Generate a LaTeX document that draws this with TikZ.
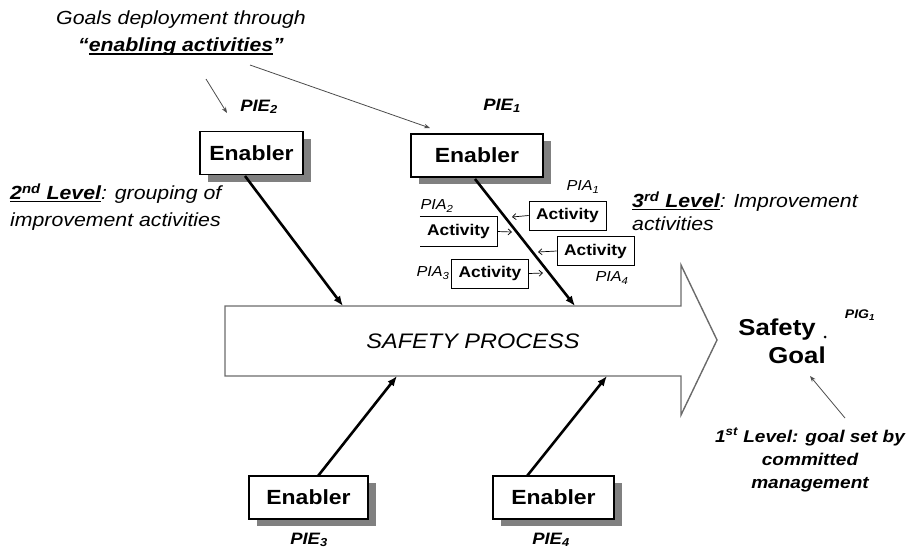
\documentclass[tikz,border=0pt]{standalone}
\usepackage{fontspec}
\setmainfont[FakeStretch=1.12]{Liberation Sans}
\usetikzlibrary{arrows.meta,shadows,calc}

% thick underline for the level headings
\newcommand{\thickul}[1]{\setbox0\hbox{#1}\rlap{\rule[-2.6pt]{\wd0}{1.3pt}}\box0}
\newcommand{\fsz}[2]{\fontsize{#1}{#2}\selectfont}

\definecolor{shadowgray}{gray}{0.5}
\definecolor{outlinegray}{gray}{0.42}
\definecolor{thingray}{gray}{0.3}

\begin{document}
\begin{tikzpicture}[x=1pt,y=-1pt,
  enabler/.style={draw, line width=1.5pt, fill=white, font=\bfseries\fsz{20.5}{22},
    inner sep=0pt, minimum height=43pt,
    general shadow={fill=shadowgray, shadow xshift=8pt, shadow yshift=-7pt}},
  activity/.style={font=\bfseries\fsz{15.5}{17}, inner sep=0pt,
    minimum width=77pt, minimum height=29pt},
  actbox/.style={activity, draw, line width=0.8pt, fill=white},
  pie/.style={font=\bfseries\itshape\fsz{16.5}{18}, inner sep=0pt},
  pia/.style={font=\itshape\fsz{14.5}{16}, inner sep=0pt},
  bone/.style={line width=2.6pt, -{Latex[length=10pt,width=8pt]}},
  feed/.style={line width=0.7pt, -{Straight Barb[length=3.5pt,width=6pt]}},
  pointer/.style={draw=thingray, line width=0.8pt, -{Stealth[length=6pt,width=4.5pt]}},
  outline/.style={draw=outlinegray, line width=1.4pt, fill=white, line join=miter},
]
\useasboundingbox (0,0) rectangle (909,550);

% main process arrow
\draw[outline] (225,306) -- (681,306) -- (681,265) -- (717,340) -- (681,415)
  -- (681,376) -- (225,376) -- cycle;
\node[font=\itshape\fsz{21}{24}] (proc) at (473,341) {SAFETY PROCESS};

% enablers
\node[enabler, minimum width=103pt] (e2) at (251.5,153) {Enabler};
\node[enabler, minimum width=132pt] (e1) at (477,155.5) {Enabler};
\node[enabler, minimum width=119pt] (e3) at (308.5,497.5) {Enabler};
\node[enabler, minimum width=121pt] (e4) at (553.5,497.5) {Enabler};

\node[pie] (pie2) at (259,107) {PIE\textsubscript{2}};
\node[pie] (pie1) at (502,106) {PIE\textsubscript{1}};
\node[pie] (pie3) at (309,540) {PIE\textsubscript{3}};
\node[pie] (pie4) at (551,540) {PIE\textsubscript{4}};

% bones into the process
\coordinate (s2) at (245,176);
\coordinate (t2) at (343,306);
\coordinate (s1) at (475,179);
\coordinate (t1) at (575,306);
\coordinate (s3) at (318,476);
\coordinate (t3) at (397,376);
\coordinate (s4) at (527,476);
\coordinate (t4) at (607,376);
\draw[bone] (s2) -- (t2);
\draw[bone] (s1) -- (t1);
\draw[bone] (s3) -- (t3);
\draw[bone] (s4) -- (t4);

% improvement activities
\node[actbox] (a1) at (567.5,215.5) {Activity};
\node[activity] (a2) at (458.5,231.5) {Activity};
\draw[line width=0.8pt] (a2.north west) -- (a2.north east) -- (a2.south east) -- (a2.south west);
\node[actbox] (a4) at (595.5,251) {Activity};
\node[actbox] (a3) at (490,273.5) {Activity};

\node[pia] (pia1) at (583,187) {PIA\textsubscript{1}};
\node[pia] (pia2) at (437,206) {PIA\textsubscript{2}};
\node[pia] (pia3) at (433,273) {PIA\textsubscript{3}};
\node[pia] (pia4) at (612,278) {PIA\textsubscript{4}};

\coordinate (h1) at (512,217);
\coordinate (h2) at (512,232);
\coordinate (h4) at (538,252);
\coordinate (h3) at (543,273);
\draw[feed] (a1.west) -- (h1);
\draw[feed] (a2.east) -- (h2);
\draw[feed] (a4.west) -- (h4);
\draw[feed] (a3.east) -- (h3);

% goal
\node[font=\bfseries\fsz{23}{28}, align=right, inner sep=0pt] (goal) at (782,341)
  {Safety\hspace*{10pt}\\Goal};
\node[circle, fill, inner sep=0pt, minimum size=3pt] (dot) at (825,337) {};
\node[font=\bfseries\itshape\fsz{12.5}{14}, inner sep=0pt] (pig) at (860,315) {PIG\textsubscript{1}};

% headings
\node[font=\itshape\fsz{19}{27}, align=center] (title) at (181,33.5)
  {Goals deployment through\\{\bfseries “\thickul{enabling activities}”}};
\node[font=\itshape\fsz{19}{27}, align=left, anchor=west, inner sep=0pt] (lvl2) at (10,207)
  {\thickul{\bfseries 2\textsuperscript{nd} Level}: grouping of\\improvement activities};
\node[font=\itshape\fsz{19}{23}, align=left, anchor=west, inner sep=0pt] (lvl3) at (632,211)
  {\thickul{\bfseries 3\textsuperscript{rd} Level}: Improvement\\activities};
\node[font=\bfseries\itshape\fsz{17}{23}, align=center, inner sep=0pt] (lvl1) at (810,460)
  {1\textsuperscript{st} Level: goal set by\\committed\\management};

% pointers
\coordinate (p2a) at (206,79);
\coordinate (p2b) at (227,113);
\coordinate (p1a) at (250,65);
\coordinate (p1b) at (430,128);
\coordinate (g1a) at (845,418);
\coordinate (g1b) at (810,376);
\draw[pointer] (p2a) -- (p2b);
\draw[pointer] (p1a) -- (p1b);
\draw[pointer] (g1a) -- (g1b);
\end{tikzpicture}
\end{document}
